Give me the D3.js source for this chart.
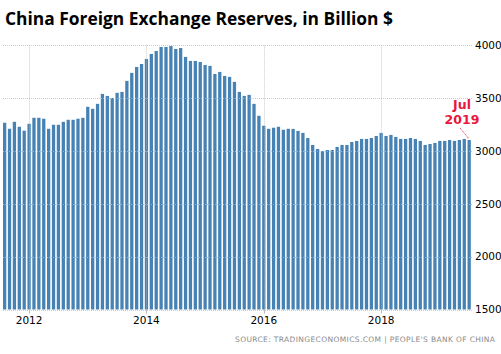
<!DOCTYPE html>
<html>
<head>
<meta charset="utf-8">
<script src="https://cdn.jsdelivr.net/npm/d3@7"></script>
<style>
  body { margin: 0; background: #fff; }
  svg { display: block; }
</style>
</head>
<body>
<script>
// monthly reserves, Aug 2011 .. Jul 2019 (billion USD)
var startMonth = new Date(2011, 7, 1);
var endMonth = new Date(2019, 7, 1);
var reserves = [
    3267, 3210, 3276, 3229, 3192, 3257, 3314, 3314, 3305, 3210, 3248, 3248,
    3276, 3295, 3295, 3305, 3314, 3418, 3399, 3446, 3540, 3521, 3502, 3550,
    3559, 3663, 3739, 3795, 3823, 3871, 3918, 3946, 3984, 3984, 3993, 3965,
    3974, 3890, 3852, 3852, 3842, 3814, 3805, 3729, 3748, 3710, 3701, 3654,
    3559, 3521, 3531, 3446, 3333, 3239, 3210, 3220, 3229, 3201, 3210, 3209,
    3190, 3171, 3123, 3057, 3019, 3000, 3009, 3009, 3038, 3057, 3057, 3085,
    3095, 3114, 3114, 3123, 3142, 3171, 3142, 3152, 3133, 3114, 3114, 3123,
    3114, 3095, 3057, 3066, 3076, 3095, 3095, 3104, 3095, 3104, 3114, 3104
];
var xTickYears = [2012, 2014, 2016, 2018];
var yTicks = [1500, 2000, 2500, 3000, 3500, 4000];
var lastLabel = ["Jul", "2019"];

var months = d3.timeMonths(startMonth, endMonth);
var dataset = months.map((m, i) => ({ month: m, value: reserves[i] }));

var width = 501;
var height = 354;

var xScale = d3.scaleBand()
    .domain(months.map(d => +d))
    .range([3, 470.8])
    .paddingInner(0.33)
    .paddingOuter(0);

var yScale = d3.scaleLinear()
    .domain([1500, 4000])
    .range([309.5, 45.3]);

var svg = d3.select("body")
    .append("svg")
    .attr("width", width)
    .attr("height", height);

// title
svg.append("text")
    .attr("x", 5)
    .attr("y", 25)
    .attr("font-family", "'Open Sans', sans-serif")
    .attr("font-weight", "bold")
    .attr("font-size", "18.5px")
    .attr("textLength", 388)
    .attr("lengthAdjust", "spacingAndGlyphs")
    .attr("fill", "#000")
    .text("China Foreign Exchange Reserves, in Billion $");

var yearX = (y) => xScale(+new Date(y, 0, 1)) + xScale.bandwidth() / 2;

// bars
svg.selectAll("rect.bar")
    .data(dataset)
    .enter()
    .append("rect")
    .attr("class", "bar")
    .attr("x", d => xScale(+d.month))
    .attr("width", xScale.bandwidth())
    .attr("y", d => yScale(d.value))
    .attr("height", d => yScale(1500) - yScale(d.value))
    .attr("fill", "#4682b4");

// grid (drawn over bars, light dotted)
var grid = svg.append("g")
    .attr("stroke", "#bbb")
    .attr("stroke-opacity", 0.75)
    .attr("stroke-dasharray", "1,1")
    .attr("stroke-width", 1);

grid.selectAll("line.h")
    .data(yTicks.slice(1))
    .enter()
    .append("line")
    .attr("x1", 3)
    .attr("x2", 472)
    .attr("y1", d => Math.round(yScale(d)) + 0.5)
    .attr("y2", d => Math.round(yScale(d)) + 0.5);

grid.selectAll("line.v")
    .data(xTickYears)
    .enter()
    .append("line")
    .attr("x1", d => Math.round(yearX(d)) + 0.5)
    .attr("x2", d => Math.round(yearX(d)) + 0.5)
    .attr("y1", yScale(4000))
    .attr("y2", yScale(1500));

// baseline + x ticks
svg.append("line")
    .attr("x1", 3)
    .attr("x2", 472)
    .attr("y1", Math.round(yScale(1500)) + 0.5)
    .attr("y2", Math.round(yScale(1500)) + 0.5)
    .attr("stroke", "#ccc")
    .attr("stroke-dasharray", "1,1");

svg.selectAll("line.xtick")
    .data(xTickYears)
    .enter()
    .append("line")
    .attr("x1", d => Math.round(yearX(d)) + 0.5)
    .attr("x2", d => Math.round(yearX(d)) + 0.5)
    .attr("y1", yScale(1500))
    .attr("y2", yScale(1500) + 4)
    .attr("stroke", "#bbb");

svg.selectAll("text.xlab")
    .data(xTickYears)
    .enter()
    .append("text")
    .attr("x", d => yearX(d))
    .attr("y", 324)
    .attr("text-anchor", "middle")
    .attr("font-family", "'DejaVu Sans', sans-serif")
    .attr("font-size", "10.5px")
    .attr("fill", "#000")
    .text(d => d);

// y labels on the right
svg.selectAll("text.ylab")
    .data(yTicks)
    .enter()
    .append("text")
    .attr("x", 475)
    .attr("y", d => yScale(d))
    .attr("dy", "0.36em")
    .attr("font-family", "'DejaVu Sans', sans-serif")
    .attr("font-size", "10.5px")
    .attr("fill", "#000")
    .text(d => d);

// annotation for the last value
var last = dataset[dataset.length - 1];
var lastX = xScale(+last.month) + xScale.bandwidth() / 2;
svg.append("line")
    .attr("x1", 460)
    .attr("y1", 128)
    .attr("x2", lastX)
    .attr("y2", yScale(last.value) - 1)
    .attr("stroke", "#e8173c")
    .attr("stroke-dasharray", "1,1");

svg.selectAll("text.ann")
    .data(lastLabel)
    .enter()
    .append("text")
    .attr("x", 462)
    .attr("y", (d, i) => 109 + i * 14.5)
    .attr("text-anchor", "middle")
    .attr("font-family", "'DejaVu Sans', sans-serif")
    .attr("font-weight", "bold")
    .attr("font-size", "12.5px")
    .attr("fill", "#e8173c")
    .text(d => d);

// source
svg.append("text")
    .attr("x", 235)
    .attr("y", 342)
    .attr("font-family", "'DejaVu Sans', sans-serif")
    .attr("font-size", "7.5px")
    .attr("textLength", 260)
    .attr("lengthAdjust", "spacing")
    .attr("fill", "#8a8a8a")
    .text("SOURCE: TRADINGECONOMICS.COM  |  PEOPLE'S BANK OF CHINA");
</script>
</body>
</html>
